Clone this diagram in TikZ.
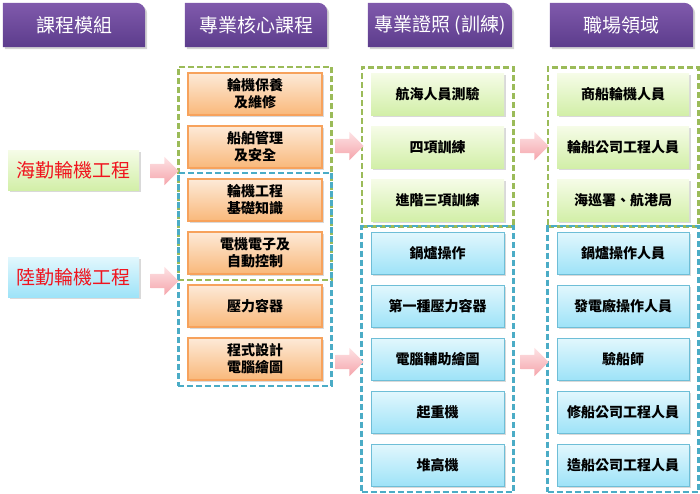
\documentclass[tikz,border=0pt]{standalone}
\usepackage{fontspec}
\setmainfont{Noto Sans CJK TC}
\usetikzlibrary{positioning,fit,shapes.arrows,shadows,backgrounds}
\definecolor{headTop}{RGB}{128,90,172}
\definecolor{headBot}{RGB}{92,60,140}
\definecolor{seaTop}{RGB}{246,252,232}
\definecolor{seaBot}{RGB}{210,239,168}
\definecolor{landTop}{RGB}{226,247,253}
\definecolor{landBot}{RGB}{158,227,248}
\definecolor{landLine}{RGB}{110,190,215}
\definecolor{coreTop}{RGB}{253,234,216}
\definecolor{coreBot}{RGB}{249,184,122}
\definecolor{coreLine}{RGB}{247,162,92}
\definecolor{dashGreen}{RGB}{155,187,89}
\definecolor{dashBlue}{RGB}{75,172,198}
\definecolor{flowTop}{RGB}{253,226,228}
\definecolor{flowBot}{RGB}{245,165,172}
\definecolor{trackRed}{RGB}{240,20,30}

\begin{document}
\begin{tikzpicture}[x=1pt,y=-1pt,
  head/.style={minimum width=142pt,minimum height=44pt,inner sep=0pt,
    text=white,font=\fontsize{19}{21}\selectfont},
  headfill/.style={top color=headTop,bottom color=headBot,
    drop shadow={shadow xshift=2pt,shadow yshift=-2pt,opacity=0.35}},
  boxshadow/.style={drop shadow={shadow xshift=1.5pt,shadow yshift=-1.5pt,opacity=0.3}},
  track/.style={boxshadow,minimum width=131pt,minimum height=40pt,inner sep=0pt,
    text=trackRed,font=\fontsize{19}{21}\selectfont},
  tile/.style={boxshadow,minimum height=42pt,inner sep=0pt,align=center,
    font=\bfseries\fontsize{14}{17}\selectfont},
  core/.style={tile,minimum width=134pt,top color=coreTop,bottom color=coreBot,
    draw=coreLine,line width=1.2pt},
  sea/.style={tile,top color=seaTop,bottom color=seaBot},
  land/.style={tile,top color=landTop,bottom color=landBot,draw=landLine,line width=0.8pt},
  frame/.style={inner xsep=9pt,inner ysep=5.5pt,line width=2.6pt,dash pattern=on 6pt off 3pt},
  flow/.style={single arrow,single arrow head extend=7pt,minimum height=28pt,
    inner sep=7pt,top color=flowTop,bottom color=flowBot}
]
  \useasboundingbox (0,0) rectangle (700,493);
  % column headers
  \node[head] (h1) at (74,25) {課程模組};
  \node[head] (h2) at (256,25) {專業核心課程};
  \node[head,minimum width=144pt] (h3) at (440,25) {專業證照 (訓練)};
  \node[head,minimum width=143pt] (h4) at (621.5,25) {職場領域};
  \begin{pgfonlayer}{background}
    \foreach \h in {h1,h2,h3,h4}
      \path[headfill] (\h.south west) -- (\h.north west) -- ([xshift=-9pt]\h.north east)
        arc[start angle=90,end angle=0,radius=9pt] -- (\h.south east) -- cycle;
  \end{pgfonlayer}
  % tracks
  \node[track,top color=seaTop,bottom color=seaBot] (t1) at (73.5,170) {海勤輪機工程};
  \node[track,top color=landTop,bottom color=landBot] (t2) at (73.5,277) {陸勤輪機工程};
  % core courses
  \foreach \n/\y/\t in {c1/94/{輪機保養\\及維修},c2/147/{船舶管理\\及安全},
      c3/200/{輪機工程\\基礎知識},c4/253/{電機電子及\\自動控制},
      c5/306/{壓力容器},c6/359/{程式設計\\電腦繪圖}}
    \node[core] (\n) at (255,\y) {\t};
  % certificates
  \foreach \n/\y/\t in {p1/94/航海人員測驗,p2/147/四項訓練,p3/200/進階三項訓練}
    \node[sea,minimum width=133pt] (\n) at (437.5,\y) {\t};
  \foreach \n/\y/\t in {p4/253/鍋爐操作,p5/306/第一種壓力容器,p6/359/電腦輔助繪圖,
      p7/412/起重機,p8/465/堆高機}
    \node[land,minimum width=133pt] (\n) at (437.5,\y) {\t};
  % jobs
  \foreach \n/\y/\t in {j1/94/商船輪機人員,j2/147/輪船公司工程人員,j3/200/海巡署、航港局}
    \node[sea,minimum width=132pt] (\n) at (623,\y) {\t};
  \foreach \n/\y/\t in {j4/253/鍋爐操作人員,j5/306/發電廠操作人員,j6/359/驗船師,
      j7/412/修船公司工程人員,j8/465/造船公司工程人員}
    \node[land,minimum width=132pt] (\n) at (623,\y) {\t};
  % dashed groups
  \node[frame,draw=dashGreen,fit=(c1)(c4)] (cg) {};
  \node[frame,draw=dashBlue,fit=(c3)(c6)] (cb) {};
  \node[frame,draw=dashGreen,fit=(p1)(p3)] (pg) {};
  \node[frame,draw=dashBlue,fit=(p4)(p8)] (pb) {};
  \node[frame,draw=dashGreen,fit=(j1)(j3)] (jg) {};
  \node[frame,draw=dashBlue,fit=(j4)(j8)] (jb) {};
  % flow arrows
  \node[flow] (a1) at (161,171) {};
  \node[flow] (a2) at (161,281) {};
  \node[flow] (a3) at (346,146) {};
  \node[flow] (a4) at (346,362) {};
  \node[flow] (a5) at (531,146) {};
  \node[flow] (a6) at (531,362) {};
\end{tikzpicture}
\end{document}
